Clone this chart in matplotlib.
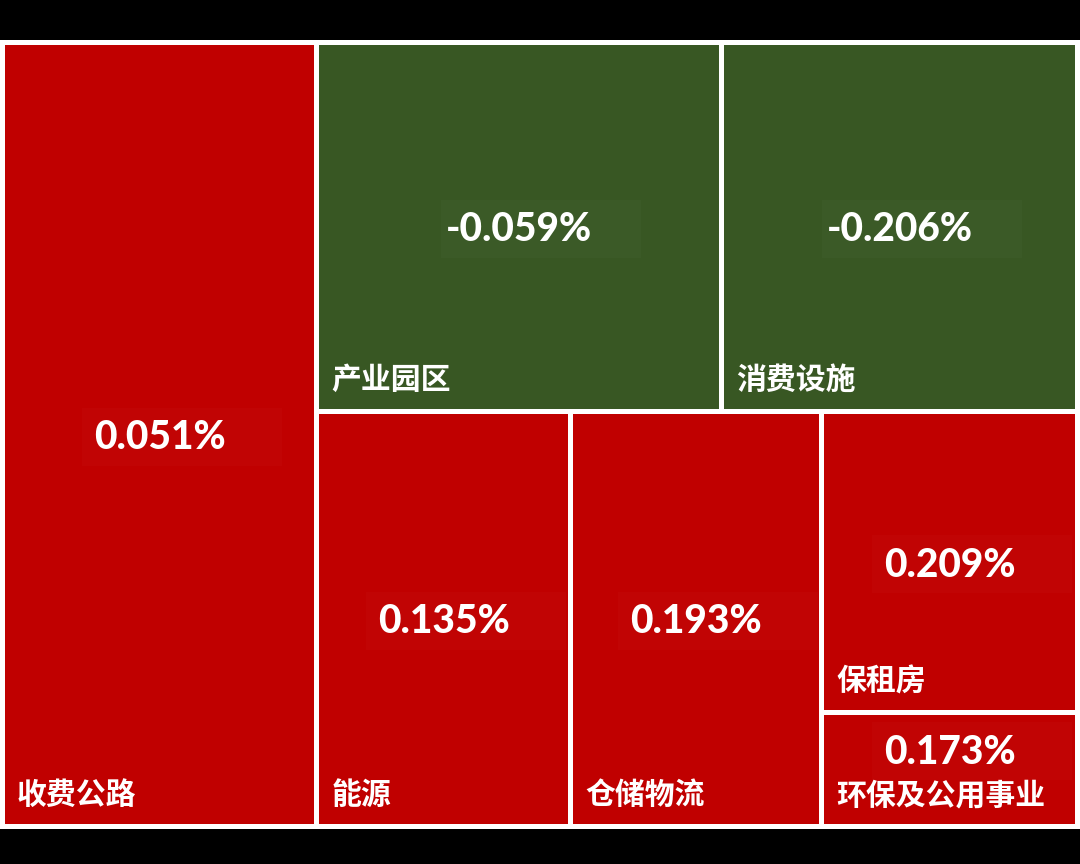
import matplotlib.pyplot as plt
from matplotlib.patches import Rectangle

plt.rcParams['font.family'] = ['Noto Sans CJK SC', 'DejaVu Sans']

# sector weights (relative size of each tile) and daily change in %
names = ["收费公路", "产业园区", "消费设施", "能源", "仓储物流", "保租房", "环保及公用事业"]
sizes = [24.6, 14.9, 13.1, 10.5, 10.4, 7.7, 2.9]
changes = [0.051, -0.059, -0.206, 0.135, 0.193, 0.209, 0.173]

UP = '#C00000'
DOWN = '#385723'

# nesting of the treemap: 'h' splits side by side, 'v' stacks top to bottom
tree = ('h', [0, ('v', [('h', [1, 2]), ('h', [3, 4, ('v', [5, 6])])])])


def weight(node):
    if isinstance(node, int):
        return sizes[node]
    return sum(weight(c) for c in node[1])


def layout(node, x, y, w, h, out):
    if isinstance(node, int):
        out[node] = (x, y, w, h)
        return
    kind, kids = node
    total = weight(node)
    pos = 0.0
    for c in kids:
        f = weight(c) / total
        if kind == 'h':
            layout(c, x + pos * w, y, w * f, h, out)
        else:
            layout(c, x, y + pos * h, w, h * f, out)
        pos += f


W, H = 1080, 789
pad, gap = 2.5, 2.5
rects = {}
layout(tree, pad, pad, W - 2 * pad, H - 2 * pad, rects)

fig = plt.figure(figsize=(10.8, 8.64), dpi=100, facecolor='black')
ax = fig.add_axes([0, 35 / 864, 1, 789 / 864])
ax.set_facecolor('white')
ax.set_xlim(0, W)
ax.set_ylim(H, 0)
ax.axis('off')
ax.add_patch(Rectangle((0, 0), W, H, facecolor='white', edgecolor='none', zorder=0))

for i, name in enumerate(names):
    x, y, w, h = rects[i]
    col = UP if changes[i] >= 0 else DOWN
    tile = Rectangle((x + gap, y + gap), w - 2 * gap, h - 2 * gap,
                     facecolor=col, edgecolor='none', zorder=1)
    ax.add_patch(tile)
    bottom = y + h - gap
    vy = min(y + h / 2, bottom - 75) + 3
    # faint data-label box, a bit wider on the right like the original
    box = Rectangle((x + w / 2 - 78, vy - 30), 200, 58, facecolor='white',
                    alpha=0.018, edgecolor='none', zorder=2)
    ax.add_patch(box)
    box.set_clip_path(tile)
    ax.text(x + w / 2, vy, f"{changes[i]:.3f}%", color='white', fontsize=28,
            fontweight='black', family=['Lato', 'DejaVu Sans'], ha='center', va='center',
            zorder=3)
    ax.text(x + gap + 12, bottom - 29, name, color='white', fontsize=21.5,
            fontweight='bold', ha='left', va='center', zorder=3)

fig.savefig('out.png', dpi=100, facecolor='black')
